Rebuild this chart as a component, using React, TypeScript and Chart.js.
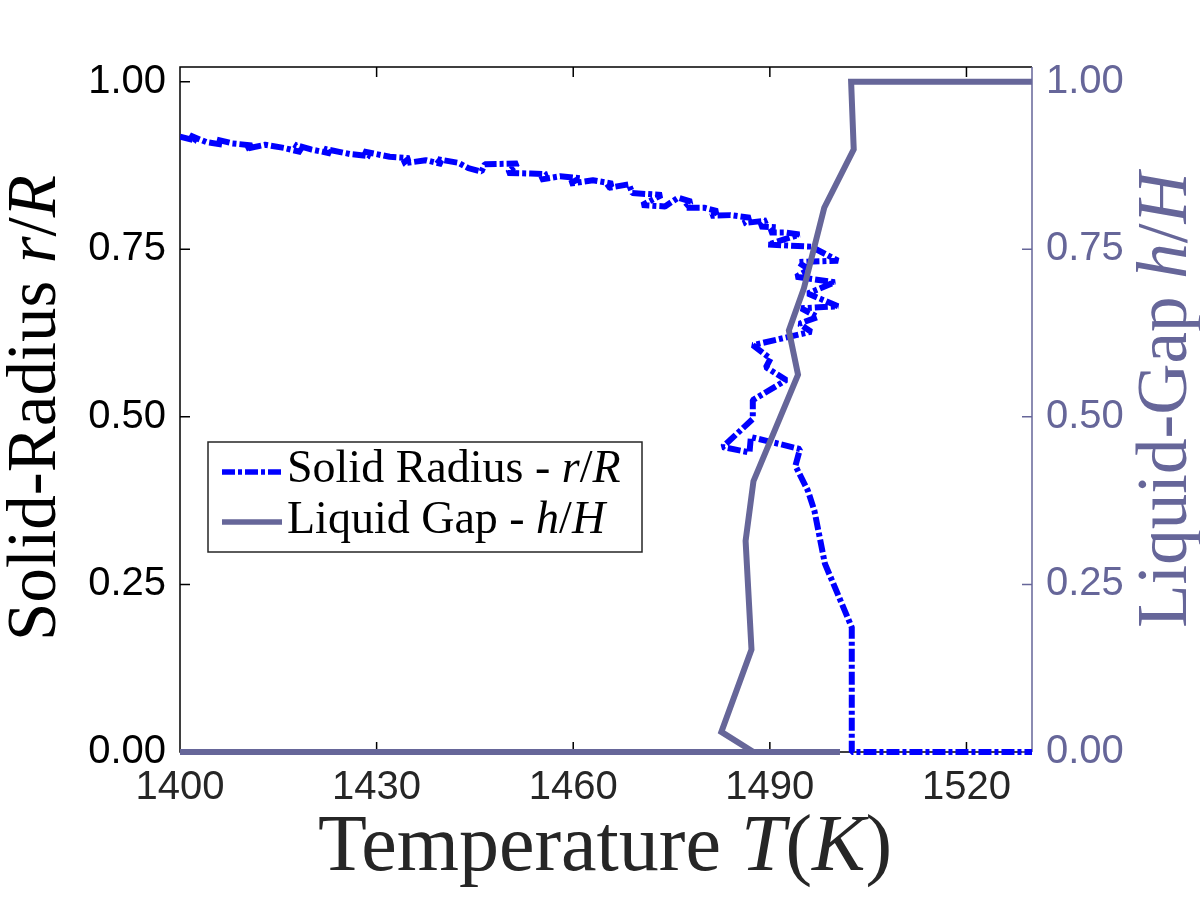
import { useEffect, useRef } from "react"
import { Chart, registerables } from "chart.js"

Chart.register(...registerables)

// x axis ticks (temperature) and y ticks (shared by both axes)
const xTicks = [1400, 1430, 1460, 1490, 1520]
const yTicks = [0, 0.25, 0.5, 0.75, 1]

// solid radius r/R against temperature (noisy measured trace, drawn in order)
const solidT = [
  1400.0, 1402.5, 1401.5, 1404.0, 1406.5, 1405.5, 1408.0, 1411.0, 1410.0, 1413.0,
  1416.0, 1418.5, 1417.5, 1420.0, 1423.0, 1422.0, 1426.0, 1429.0, 1428.0, 1432.0,
  1435.0, 1434.0, 1437.5, 1440.0, 1439.0, 1442.5, 1444.0, 1446.0, 1446.5, 1451.5,
  1450.0, 1453.5, 1456.0, 1455.0, 1458.0, 1461.0, 1459.5, 1463.0, 1466.0, 1465.0,
  1468.5, 1469.0, 1473.5, 1470.5, 1474.0, 1476.0, 1478.0, 1477.0, 1480.0, 1482.0,
  1481.0, 1484.0, 1487.0, 1486.0, 1489.5, 1488.5, 1491.0, 1490.0, 1492.5, 1494.5,
  1489.7, 1496.3, 1500.4, 1494.3, 1496.0, 1494.0, 1499.9, 1495.8, 1500.4, 1494.8,
  1497.3, 1494.5, 1496.3, 1487.4, 1490.1, 1489.4, 1492.5, 1487.4, 1487.4, 1482.8,
  1486.9, 1487.1, 1494.6, 1493.9, 1495.8, 1496.8, 1498.4, 1502.5, 1502.5, 1530.0,
]
const solidR = [
  0.918, 0.912, 0.920, 0.910, 0.906, 0.914, 0.908, 0.905, 0.900, 0.906,
  0.901, 0.895, 0.906, 0.899, 0.893, 0.900, 0.892, 0.889, 0.896, 0.888,
  0.886, 0.878, 0.883, 0.877, 0.885, 0.879, 0.871, 0.866, 0.877, 0.878,
  0.864, 0.863, 0.862, 0.854, 0.859, 0.856, 0.848, 0.853, 0.848, 0.841,
  0.847, 0.834, 0.831, 0.816, 0.814, 0.827, 0.821, 0.812, 0.812, 0.807,
  0.800, 0.801, 0.797, 0.789, 0.793, 0.784, 0.783, 0.775, 0.775, 0.772,
  0.757, 0.754, 0.733, 0.731, 0.720, 0.709, 0.701, 0.684, 0.665, 0.662,
  0.649, 0.639, 0.627, 0.607, 0.587, 0.574, 0.555, 0.525, 0.497, 0.455,
  0.447, 0.470, 0.452, 0.427, 0.390, 0.360, 0.281, 0.186, 0.0, 0.0,
]

// liquid gap h/H against temperature
const gapT = [
  1400.0, 1500.7, 1487.5, 1482.6, 1487.2, 1486.3, 1487.5, 1494.3, 1492.9, 1495.2,
  1498.3, 1502.8, 1502.4, 1530.0,
]
const gapH = [
  0.0, 0.0, 0.0, 0.03, 0.153, 0.315, 0.404, 0.563, 0.629, 0.692,
  0.812, 0.899, 1.0, 1.0,
]

const BLUE = "#0000ff"
const GAP = "#666699"
const INK = "#262626"
const DASH = [13, 3, 4, 3]

type Part = { text: string; italic?: boolean }

function drawParts(
  ctx: CanvasRenderingContext2D,
  parts: Part[],
  x: number,
  y: number,
  size: number,
  color: string,
  opts: { rotate?: boolean; center?: boolean } = {}
) {
  const fontFor = (p: Part) => `${p.italic ? "italic " : ""}${size}px "Liberation Serif"`
  ctx.save()
  ctx.translate(x, y)
  if (opts.rotate) ctx.rotate(-Math.PI / 2)
  let total = 0
  for (const p of parts) {
    ctx.font = fontFor(p)
    total += ctx.measureText(p.text).width
  }
  let cx = opts.center ? -total / 2 : 0
  ctx.fillStyle = color
  ctx.textAlign = "left"
  ctx.textBaseline = "alphabetic"
  for (const p of parts) {
    ctx.font = fontFor(p)
    ctx.fillText(p.text, cx, 0)
    cx += ctx.measureText(p.text).width
  }
  ctx.restore()
}

// box, inward tick marks, titles and legend
const framePlugin = {
  id: "frame",
  beforeDatasetsDraw(chart: any) {
    const { ctx, chartArea: a, scales } = chart
    const tl = 10
    ctx.save()
    ctx.lineWidth = 1.5
    ctx.strokeStyle = "#000"
    ctx.beginPath()
    ctx.moveTo(a.right, a.top)
    ctx.lineTo(a.left, a.top)
    ctx.lineTo(a.left, a.bottom)
    ctx.lineTo(a.right, a.bottom)
    for (const v of xTicks) {
      const px = scales.x.getPixelForValue(v)
      ctx.moveTo(px, a.bottom)
      ctx.lineTo(px, a.bottom - tl)
      ctx.moveTo(px, a.top)
      ctx.lineTo(px, a.top + tl)
    }
    for (const v of yTicks) {
      const py = scales.y.getPixelForValue(v)
      ctx.moveTo(a.left, py)
      ctx.lineTo(a.left + tl, py)
    }
    ctx.stroke()
    ctx.strokeStyle = GAP
    ctx.beginPath()
    ctx.moveTo(a.right, a.top)
    ctx.lineTo(a.right, a.bottom)
    for (const v of yTicks) {
      const py = scales.y1.getPixelForValue(v)
      ctx.moveTo(a.right, py)
      ctx.lineTo(a.right - tl, py)
    }
    ctx.stroke()
    ctx.restore()
  },
  afterDraw(chart: any) {
    const { ctx } = chart
    drawParts(ctx, [{ text: "Temperature " }, { text: "T", italic: true }, { text: "(" }, { text: "K", italic: true }, { text: ")" }], 605, 870, 80, INK, { center: true })
    drawParts(ctx, [{ text: "Solid-Radius " }, { text: "r", italic: true }, { text: "/" }, { text: "R", italic: true }], 55, 408, 69, "#000", { center: true, rotate: true })
    drawParts(ctx, [{ text: "Liquid-Gap " }, { text: "h", italic: true }, { text: "/" }, { text: "H", italic: true }], 1186, 400, 71, GAP, { center: true, rotate: true })

    ctx.save()
    ctx.fillStyle = "#fff"
    ctx.fillRect(208, 442, 434, 110)
    ctx.lineWidth = 1.5
    ctx.strokeStyle = INK
    ctx.strokeRect(208, 442, 434, 110)
    ctx.lineWidth = 5.5
    ctx.lineCap = "butt"
    ctx.strokeStyle = BLUE
    ctx.setLineDash(DASH)
    ctx.beginPath()
    ctx.moveTo(222, 472)
    ctx.lineTo(282, 472)
    ctx.stroke()
    ctx.setLineDash([])
    ctx.strokeStyle = GAP
    ctx.beginPath()
    ctx.moveTo(222, 522)
    ctx.lineTo(282, 522)
    ctx.stroke()
    ctx.restore()
    drawParts(ctx, [{ text: "Solid Radius - " }, { text: "r", italic: true }, { text: "/" }, { text: "R", italic: true }], 287, 482, 46, "#000")
    drawParts(ctx, [{ text: "Liquid Gap - " }, { text: "h", italic: true }, { text: "/" }, { text: "H", italic: true }], 287, 533, 46, "#000")
  },
}

const tickFont = { family: "'Liberation Sans', Arial, sans-serif", size: 40 }

export default function App() {
  const chartRef = useRef<HTMLCanvasElement>(null)
  const chartInstance = useRef<Chart | null>(null)

  useEffect(() => {
    if (!chartRef.current) return
    if (chartInstance.current) {
      chartInstance.current.destroy()
    }
    const ctx = chartRef.current.getContext("2d")
    if (!ctx) return

    chartInstance.current = new Chart(ctx, {
      type: "line",
      data: {
        datasets: [
          {
            label: "Liquid Gap - h/H",
            data: gapT.map((t, i) => ({ x: t, y: gapH[i] })),
            borderColor: GAP,
            borderWidth: 6,
            borderJoinStyle: "miter",
            pointRadius: 0,
            tension: 0,
            fill: false,
            clip: { left: 0, top: 0, right: 0, bottom: 8 },
            yAxisID: "y1",
          },
          {
            label: "Solid Radius - r/R",
            data: solidT.map((t, i) => ({ x: t, y: solidR[i] })),
            borderColor: BLUE,
            borderWidth: 6,
            borderDash: DASH,
            borderCapStyle: "butt",
            borderJoinStyle: "bevel",
            pointRadius: 0,
            tension: 0,
            fill: false,
            clip: { left: 0, top: 0, right: 0, bottom: 8 },
            yAxisID: "y",
          },
        ],
      },
      options: {
        responsive: false,
        animation: false,
        parsing: false,
        normalized: false,
        layout: { padding: { top: 67, left: 0, right: 0, bottom: 0 } },
        scales: {
          x: {
            type: "linear",
            min: 1400,
            max: 1530,
            grid: { display: false, drawTicks: false },
            border: { display: false },
            afterBuildTicks: (scale: any) => {
              scale.ticks = xTicks.map((v) => ({ value: v }))
            },
            afterFit: (scale: any) => {
              scale.height = 148
            },
            ticks: {
              font: tickFont,
              color: INK,
              padding: 12,
              maxRotation: 0,
              autoSkip: false,
              callback: (v: any) => String(v),
            },
          },
          y: {
            type: "linear",
            position: "left",
            min: 0,
            max: 1.022,
            grid: { display: false, drawTicks: false },
            border: { display: false },
            afterBuildTicks: (scale: any) => {
              scale.ticks = yTicks.map((v) => ({ value: v }))
            },
            afterFit: (scale: any) => {
              scale.width = 180
            },
            ticks: {
              font: tickFont,
              color: "#000",
              padding: 14,
              autoSkip: false,
              callback: (v: any) => Number(v).toFixed(2),
            },
          },
          y1: {
            type: "linear",
            position: "right",
            min: 0,
            max: 1.022,
            grid: { display: false, drawTicks: false },
            border: { display: false },
            afterBuildTicks: (scale: any) => {
              scale.ticks = yTicks.map((v) => ({ value: v }))
            },
            afterFit: (scale: any) => {
              scale.width = 168
            },
            ticks: {
              font: tickFont,
              color: GAP,
              padding: 14,
              autoSkip: false,
              callback: (v: any) => Number(v).toFixed(2),
            },
          },
        },
        plugins: {
          legend: { display: false },
          title: { display: false },
          tooltip: { enabled: false },
        },
      },
      plugins: [framePlugin],
    } as any)

    return () => {
      if (chartInstance.current) {
        chartInstance.current.destroy()
        chartInstance.current = null
      }
    }
  }, [])

  return (
    <div style={{ position: "absolute", left: 0, top: 0, width: 1200, height: 900, background: "#fff" }}>
      <canvas ref={chartRef} width={1200} height={900} />
    </div>
  )
}
